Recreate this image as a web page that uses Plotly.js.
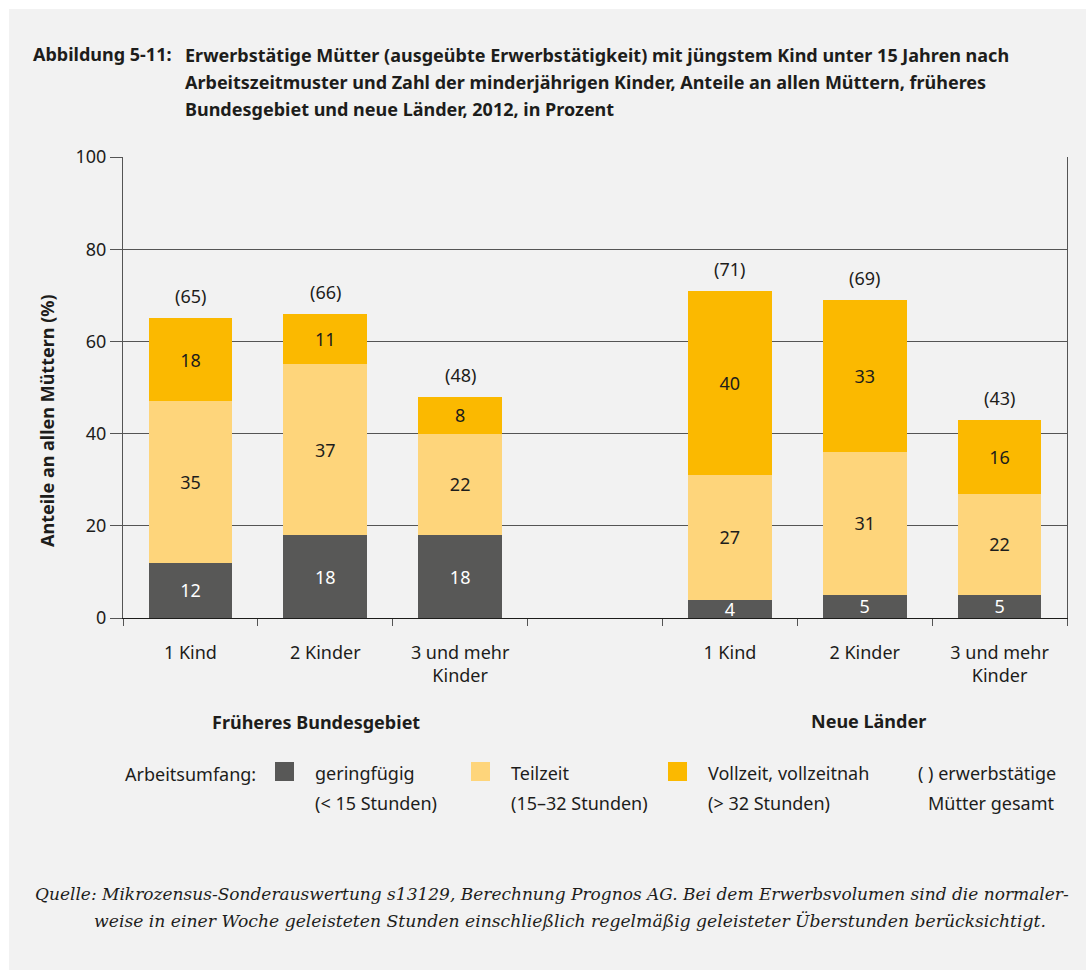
<!DOCTYPE html>
<html lang="de">
<head>
<meta charset="utf-8">
<script src="https://cdn.plot.ly/plotly-3.0.1.min.js"></script>
<style>
  html, body { margin: 0; padding: 0; background: #ffffff; }
  #chart { width: 1086px; height: 970px; }
</style>
</head>
<body>
<div id="chart"></div>
<script>
// Category slots along the x axis (the empty slot separates the two regions)
const categories = [
  "Früheres Bundesgebiet: 1 Kind",
  "Früheres Bundesgebiet: 2 Kinder",
  "Früheres Bundesgebiet: 3 und mehr Kinder",
  "Abstand",
  "Neue Länder: 1 Kind",
  "Neue Länder: 2 Kinder",
  "Neue Länder: 3 und mehr Kinder"
];
const tickLabels = ["1 Kind", "2 Kinder", "3 und mehr<br>Kinder", "", "1 Kind", "2 Kinder", "3 und mehr<br>Kinder"];
const regionLabels = ["Früheres Bundesgebiet", "Neue Länder"];

// Shares of all mothers in percent, by working-time pattern
const geringfuegig = [12, 18, 18, null, 4, 5, 5];
const teilzeit     = [35, 37, 22, null, 27, 31, 22];
const vollzeit     = [18, 11, 8, null, 40, 33, 16];

const seriesNames = ["geringfügig", "Teilzeit", "Vollzeit, vollzeitnah"];
const seriesHours = ["(< 15 Stunden)", "(15–32 Stunden)", "(> 32 Stunden)"];
const seriesColors = ["#585857", "#fed57b", "#fbb900"];
const labelColors = ["#ffffff", "#1d1d1b", "#1d1d1b"];

const yTicks = [0, 20, 40, 60, 80, 100];

// ---- page geometry (pixels) ----
const W = 1086, H = 970;
const M = { l: 123, r: 19, t: 157, b: 352 };
const plotW = W - M.l - M.r, plotH = H - M.t - M.b;
const px = x => (x - M.l) / plotW;           // pixel x -> paper x
const py = y => (H - M.b - y) / plotH;       // pixel y -> paper y

const SANS = "Noto Sans, Open Sans, DejaVu Sans, sans-serif";
const SERIF = "DejaVu Serif, Liberation Serif, serif";
const INK = "#1d1d1b";
const FS = 18;      // body text size
const FSB = 18;     // bold heading size

const seriesValues = [geringfuegig, teilzeit, vollzeit];

const traces = seriesValues.map((vals, i) => ({
  type: "bar",
  name: seriesNames[i],
  x: categories,
  y: vals,
  marker: { color: seriesColors[i], line: { width: 0 } },
  text: vals.map(v => (v == null ? "" : String(v))),
  texttemplate: "%{text}",
  textposition: "inside",
  insidetextanchor: "middle",
  constraintext: "none",
  textangle: 0,
  textfont: { family: SANS, size: FS, color: labelColors[i] },
  hoverinfo: "x+y+name",
  showlegend: false
}));

// totals in parentheses above each stack
const totals = categories.map((c, k) =>
  geringfuegig[k] == null ? null : geringfuegig[k] + teilzeit[k] + vollzeit[k]);

const annotations = [];
categories.forEach((c, k) => {
  if (totals[k] == null) return;
  annotations.push({
    xref: "x", yref: "y", x: c, y: totals[k],
    text: "(" + totals[k] + ")", showarrow: false,
    yanchor: "middle", yshift: 22,
    font: { family: SANS, size: FS, color: INK }
  });
});

// helper for free-standing text in pixel coordinates
function label(text, x, y, opts) {
  const o = opts || {};
  annotations.push({
    xref: "paper", yref: "paper", x: px(x), y: py(y),
    text: text, showarrow: false,
    xanchor: o.xanchor || "left", yanchor: "middle",
    textangle: o.angle || 0,
    font: { family: o.family || SANS, size: o.size || FS, color: INK },
    align: o.align || "left"
  });
}

// heading
const headLines = [
  "<b>Erwerbstätige Mütter (ausgeübte Erwerbstätigkeit) mit jüngstem Kind unter 15 Jahren nach</b>",
  "<b>Arbeitszeitmuster und Zahl der minderjährigen Kinder, Anteile an allen Müttern, früheres</b>",
  "<b>Bundesgebiet und neue Länder, 2012, in Prozent</b>"
];
headLines.forEach((t, i) => label(t, 183, 55 + i * 27, { size: FSB }));

// y axis title
label("<b>Anteile an allen Müttern (%)</b>", 47, 421, { angle: -90, xanchor: "center", size: FSB });

// region labels under the category ticks
label("<b>" + regionLabels[0] + "</b>", 316, 722, { xanchor: "center", size: FSB });
label("<b>" + regionLabels[1] + "</b>", 868, 721, { xanchor: "center", size: FSB });

// legend
label("Arbeitsumfang:", 123, 774);
const legendX = [275, 471, 668];
const shapes = [];
// page background panel
shapes.push({
  type: "rect", xref: "paper", yref: "paper", layer: "below",
  x0: px(9), x1: px(W + 5), y0: py(H + 5), y1: py(9),
  fillcolor: "#f2f2f2", line: { width: 0 }
});
seriesNames.forEach((n, i) => {
  shapes.push({
    type: "rect", xref: "paper", yref: "paper",
    x0: px(legendX[i]), x1: px(legendX[i] + 19), y0: py(781), y1: py(762),
    fillcolor: seriesColors[i], line: { width: 0 }
  });
  label(n, legendX[i] + 38, 773);
  label(seriesHours[i], legendX[i] + 38, 803);
});
label("( ) erwerbstätige", 1058, 773, { xanchor: "right" });
label("Mütter gesamt", 1056, 803, { xanchor: "right" });

// source note
label("<i>Quelle: Mikrozensus-Sonderauswertung s13129, Berechnung Prognos AG. Bei dem Erwerbsvolumen sind die normaler-</i>",
      33, 894, { family: SERIF, size: 17 });
label("<i>weise in einer Woche geleisteten Stunden einschließlich regelmäßig geleisteter Überstunden berücksichtigt.</i>",
      92, 921, { family: SERIF, size: 17.2 });

const layout = {
  width: W, height: H,
  margin: M,
  paper_bgcolor: "#ffffff",
  plot_bgcolor: "rgba(0,0,0,0)",
  barmode: "stack",
  bargap: 0.38,
  showlegend: false,
  font: { family: SANS, size: FS, color: INK },
  title: {
    text: "<b>Abbildung 5-11:</b>",
    font: { family: SANS, size: FSB, color: INK },
    xref: "container", yref: "container",
    x: 33 / W, y: 1 - 55 / H, xanchor: "left", yanchor: "middle"
  },
  xaxis: {
    type: "category",
    categoryorder: "array",
    categoryarray: categories,
    range: [-0.5, categories.length - 0.5],
    tickmode: "array",
    tickvals: categories,
    ticktext: tickLabels,
    tickson: "boundaries",
    ticks: "outside", ticklen: 7, tickcolor: "#555555", tickwidth: 1,
    ticklabelstandoff: 18,
    showline: true, linecolor: "#1d1d1b", linewidth: 1,
    showgrid: false, zeroline: false,
    tickfont: { family: SANS, size: FS, color: INK },
    fixedrange: true
  },
  yaxis: {
    range: [0, 100],
    tickmode: "array",
    tickvals: yTicks,
    ticks: "outside", ticklen: 12, tickcolor: "#555555", tickwidth: 1,
    showline: true, mirror: true, linecolor: "#555555", linewidth: 1,
    showgrid: true, gridcolor: "#555555", gridwidth: 1,
    zeroline: false,
    tickfont: { family: SANS, size: FS, color: INK },
    fixedrange: true
  },
  shapes: shapes,
  annotations: annotations
};

Plotly.newPlot("chart", traces, layout, { displayModeBar: false, staticPlot: true });
</script>
</body>
</html>
